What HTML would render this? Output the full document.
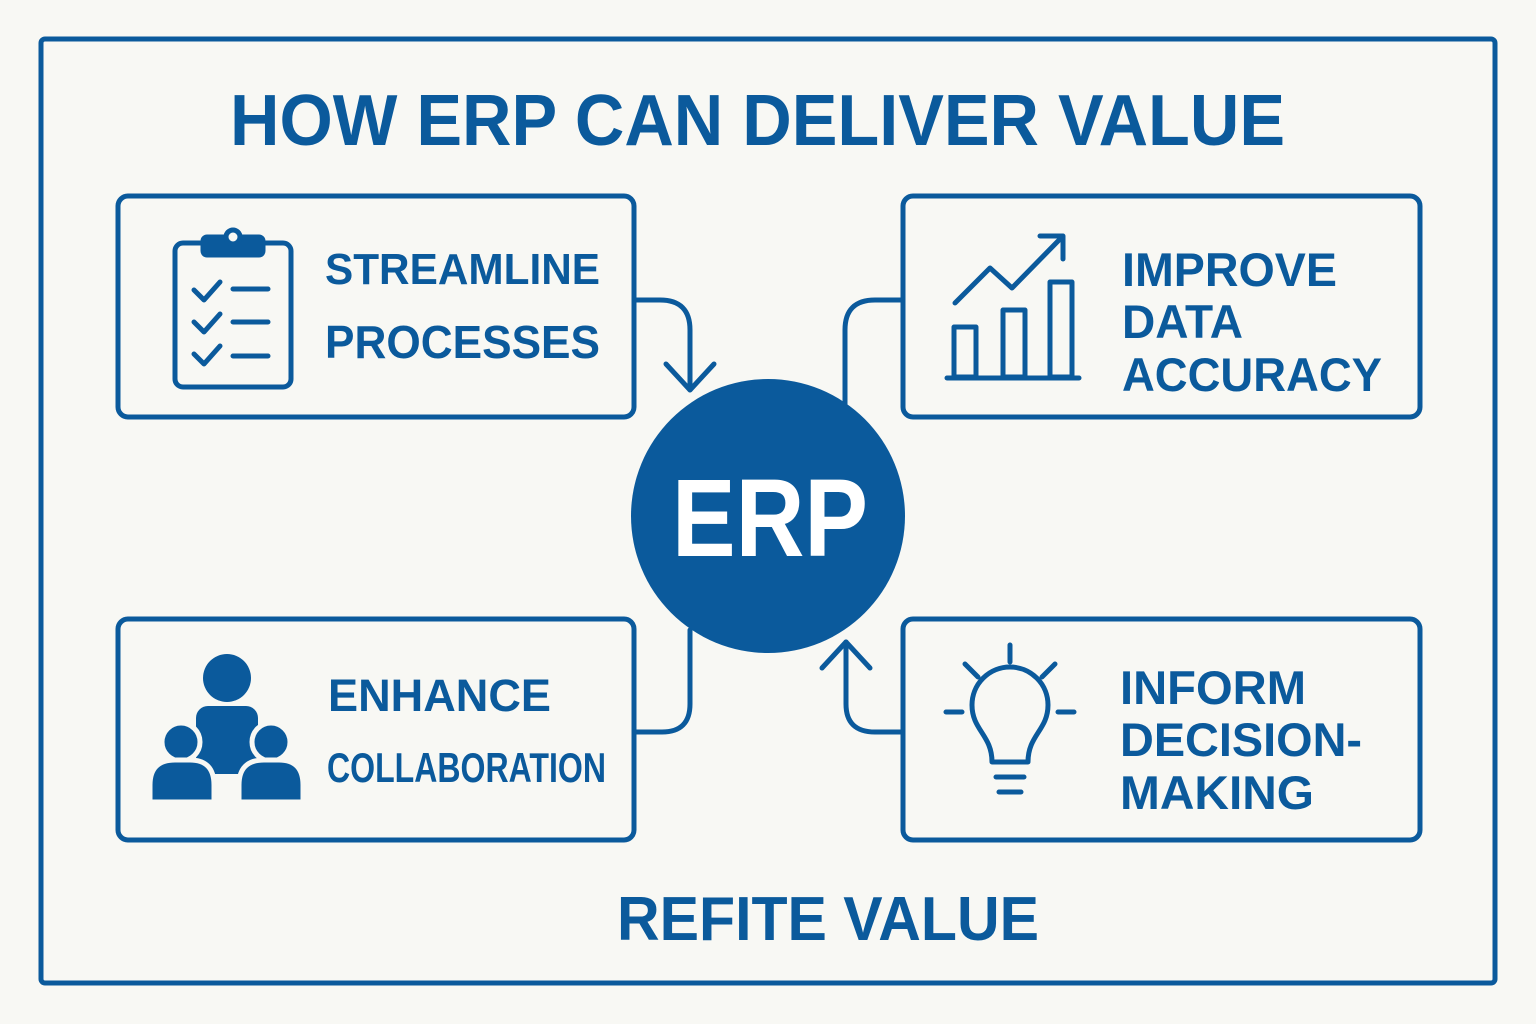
<!DOCTYPE html>
<html><head><meta charset="utf-8"><style>
html,body{margin:0;padding:0;background:#f8f8f4;}
svg{display:block}
text{font-family:"Liberation Sans",sans-serif;font-weight:bold;fill:#0b5a9c}
</style></head><body>
<svg width="1536" height="1024" viewBox="0 0 1536 1024" xmlns="http://www.w3.org/2000/svg">
<rect width="1536" height="1024" fill="#f8f8f4"/>
<g fill="none" stroke="#0b5a9c" stroke-width="5" stroke-linecap="round" stroke-linejoin="round">
<rect x="41" y="39" width="1454" height="944" rx="4"/>
<rect x="118" y="196" width="516" height="221" rx="10"/>
<rect x="903" y="196" width="517" height="221" rx="10"/>
<rect x="118" y="619" width="516" height="221" rx="10"/>
<rect x="903" y="619" width="517" height="221" rx="10"/>
<path d="M634 300 H660 Q690 300 690 330 V388"/>
<path d="M666 364 L690 390 L714 364"/>
<path d="M903 300 H875 Q845 300 845 330 V405"/>
<path d="M634 732 H662 Q690 732 690 704 V630"/>
<path d="M903 732 H875 Q846 732 846 704 V642"/>
<path d="M822 668 L846 642 L870 668"/>
<rect x="175" y="243" width="116" height="144" rx="8"/>
<rect x="203" y="237" width="60" height="18" rx="4" fill="#0b5a9c"/>
<circle cx="233" cy="237" r="7" fill="#f8f8f4"/>
<path d="M194 290 l10 10 l16 -18 M233 289 H268"/>
<path d="M194 322 l10 10 l16 -18 M233 322 H268"/>
<path d="M194 354 l10 10 l16 -18 M233 356 H268"/>
<path d="M947 378 H1079"/>
<rect x="954" y="327" width="22" height="50"/>
<rect x="1003" y="310" width="22" height="67"/>
<rect x="1050" y="282" width="22" height="95"/>
<path d="M955 303 L990 268 L1012 288 L1062 237"/>
<path d="M1040 236 H1063 V259"/>
<path d="M992 762 C992 735 972 730 972 705 A38 38 0 1 1 1048 705 C1048 730 1028 735 1028 762 Z"/>
<path d="M996 777 H1024 M999 792 H1021"/>
<path d="M1010 645 V662 M965 664 L978 677 M1055 664 L1042 677 M946 712 H962 M1058 712 H1074"/>
</g>
<g fill="#0b5a9c">
<circle cx="227" cy="678" r="24"/>
<rect x="196" y="706" width="62" height="68" rx="12"/>
</g>
<g fill="#0b5a9c" stroke="#f8f8f4" stroke-width="5">
<circle cx="181" cy="742" r="19"/>
<path d="M150 802 V785 Q150 760 175 760 H190 Q214 760 214 785 V802 Z"/>
<circle cx="271" cy="742" r="19"/>
<path d="M239 802 V785 Q239 760 264 760 H279 Q303 760 303 785 V802 Z"/>
</g>
<circle cx="768" cy="516" r="137" fill="#0b5a9c"/>
<text x="770" y="556" text-anchor="middle" font-size="110" style="fill:#fff" textLength="196" lengthAdjust="spacingAndGlyphs">ERP</text>
<text x="230" y="145" font-size="72" textLength="1055" lengthAdjust="spacingAndGlyphs">HOW ERP CAN DELIVER VALUE</text>
<text x="325" y="284" font-size="44" textLength="275" lengthAdjust="spacingAndGlyphs">STREAMLINE</text>
<text x="325" y="358" font-size="46" textLength="275" lengthAdjust="spacingAndGlyphs">PROCESSES</text>
<text x="1122" y="286" font-size="47" textLength="215" lengthAdjust="spacingAndGlyphs">IMPROVE</text>
<text x="1122" y="338" font-size="47" textLength="121" lengthAdjust="spacingAndGlyphs">DATA</text>
<text x="1122" y="391" font-size="47" textLength="260" lengthAdjust="spacingAndGlyphs">ACCURACY</text>
<text x="328" y="711" font-size="45" textLength="223" lengthAdjust="spacingAndGlyphs">ENHANCE</text>
<text x="327" y="782" font-size="42" textLength="279" lengthAdjust="spacingAndGlyphs">COLLABORATION</text>
<text x="1120" y="704" font-size="47" textLength="186" lengthAdjust="spacingAndGlyphs">INFORM</text>
<text x="1120" y="756" font-size="47" textLength="242" lengthAdjust="spacingAndGlyphs">DECISION-</text>
<text x="1120" y="809" font-size="47" textLength="194" lengthAdjust="spacingAndGlyphs">MAKING</text>
<text x="617" y="940" font-size="62" textLength="422" lengthAdjust="spacingAndGlyphs">REFITE VALUE</text>
</svg>
</body></html>
